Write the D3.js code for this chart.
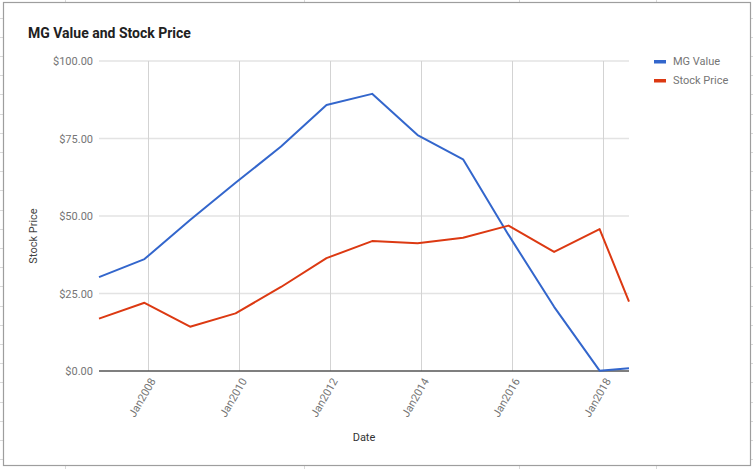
<!DOCTYPE html>
<html>
<head>
<meta charset="utf-8">
<script src="https://cdn.jsdelivr.net/npm/d3@7"></script>
<style>
  html, body { margin: 0; padding: 0; background: #fff; }
  svg { display: block; font-family: Roboto, "Noto Sans", Arial, sans-serif; }
</style>
</head>
<body>
<svg id="chart" width="753" height="469"></svg>
<script>
// ---- data ----
const dates = ["2006-12-01","2007-12-01","2008-12-01","2009-12-01","2010-12-01","2011-12-01",
               "2012-12-01","2013-12-01","2014-12-01","2015-12-01","2016-12-01","2017-12-01","2018-07-25"];
const mgValue    = [30.3, 36.1, 48.7, 60.7, 72.4, 85.8, 89.4, 76.1, 68.3, 43.9, 20.7, 0.1, 0.9];
const stockPrice = [16.9, 22.0, 14.3, 18.6, 27.1, 36.4, 41.9, 41.2, 43.0, 46.9, 38.4, 45.8, 22.4];
const seriesNames = ["MG Value", "Stock Price"];
const seriesColors = ["#3366cc", "#dc3912"];
const yTickValues = [0, 25, 50, 75, 100];
const xTickDates = ["2008-01-01","2010-01-01","2012-01-01","2014-01-01","2016-01-01","2018-01-01"];
const titleText = "MG Value and Stock Price";
const xTitle = "Date";
const yTitle = "Stock Price";

// ---- setup ----
const svg = d3.select("#chart");
const W = 753, H = 469;
const plot = { left: 99, right: 629, top: 61, bottom: 371 };
const parse = d3.timeParse("%Y-%m-%d");
const dateObjs = dates.map(parse);

// spreadsheet background (outside the chart frame)
const bg = svg.append("g").attr("stroke", "#d9d9d9").attr("stroke-width", 1);
[65, 304, 519, 656].forEach(x => {
  bg.append("line").attr("x1", x + 0.5).attr("x2", x + 0.5).attr("y1", 0).attr("y2", 3);
  bg.append("line").attr("x1", x + 0.5).attr("x2", x + 0.5).attr("y1", 466).attr("y2", H);
});
d3.range(17.5, 466, 19.2).forEach(y => {
  bg.append("line").attr("x1", 0).attr("x2", 3).attr("y1", Math.round(y) + 0.5).attr("y2", Math.round(y) + 0.5);
  bg.append("line").attr("x1", 751).attr("x2", W).attr("y1", Math.round(y) + 0.5).attr("y2", Math.round(y) + 0.5);
});

// chart frame
svg.append("rect").attr("x", 3.5).attr("y", 2.5).attr("width", 747).attr("height", 463)
  .attr("fill", "#fff").attr("stroke", "#9e9e9e").attr("stroke-width", 1.2);

const x = d3.scaleTime().domain(d3.extent(dateObjs)).range([plot.left, plot.right]);
const y = d3.scaleLinear().domain([0, 100]).range([plot.bottom, plot.top]);

// horizontal gridlines + y labels
const yAxis = d3.axisLeft(y).tickValues(yTickValues).tickSize(0).tickPadding(6)
  .tickFormat(d => "$" + d3.format(",.2f")(d));
const gy = svg.append("g").attr("transform", `translate(${plot.left},0)`).call(yAxis);
gy.select(".domain").remove();
gy.selectAll("text").attr("fill", "#757575").attr("font-size", 11).attr("font-family", "Roboto, sans-serif");
svg.append("g").selectAll("line").data(yTickValues.filter(d => d > 0)).join("line")
  .attr("x1", plot.left).attr("x2", plot.right)
  .attr("y1", d => y(d)).attr("y2", d => y(d))
  .attr("stroke", "#e3e3e3").attr("stroke-width", 1.6);

// vertical gridlines + x labels
const xTicks = xTickDates.map(parse);
svg.append("g").selectAll("line").data(xTicks).join("line")
  .attr("x1", d => Math.round(x(d)) + 0.5).attr("x2", d => Math.round(x(d)) + 0.5)
  .attr("y1", plot.top).attr("y2", plot.bottom)
  .attr("stroke", "#d3d3d3").attr("stroke-width", 1);

const xAxis = d3.axisBottom(x).tickValues(xTicks).tickSize(0).tickFormat(d3.timeFormat("%b%Y"));
const gx = svg.append("g").attr("transform", `translate(0,${plot.bottom})`).call(xAxis);
gx.select(".domain").remove();
gx.selectAll("text")
  .attr("fill", "#757575").attr("font-size", 11).attr("font-family", "Roboto, sans-serif")
  .attr("text-anchor", "end")
  .attr("transform", "translate(4,8) rotate(-60)")
  .attr("x", 0).attr("y", 0).attr("dy", "0.35em");

// baseline
svg.append("line").attr("x1", plot.left).attr("x2", plot.right)
  .attr("y1", y(0)).attr("y2", y(0)).attr("stroke", "#555").attr("stroke-width", 1.4);

// lines
const series = [mgValue, stockPrice];
const lineGen = d3.line().x((d, i) => x(dateObjs[i])).y(d => y(d));
series.forEach((vals, k) => {
  svg.append("path").datum(vals)
    .attr("d", lineGen)
    .attr("fill", "none")
    .attr("stroke", seriesColors[k])
    .attr("stroke-width", 2)
    .attr("stroke-linejoin", "round");
});

// title
svg.append("text").attr("x", 28).attr("y", 38).text(titleText)
  .attr("font-size", 14).attr("font-weight", "bold").attr("fill", "#212121");

// axis titles
svg.append("text").attr("x", (plot.left + plot.right) / 2).attr("y", 441).text(xTitle)
  .attr("text-anchor", "middle").attr("font-size", 11).attr("fill", "#333");
svg.append("text").attr("transform", "translate(37,236) rotate(-90)").text(yTitle)
  .attr("text-anchor", "middle").attr("font-size", 11).attr("fill", "#444");

// legend
const lg = svg.append("g");
seriesNames.forEach((name, k) => {
  const cy = 61.5 + k * 19;
  lg.append("rect").attr("x", 654).attr("y", cy - 1.5).attr("width", 12).attr("height", 3.5)
    .attr("fill", seriesColors[k]);
  lg.append("text").attr("x", 673).attr("y", cy).attr("dy", "0.35em").text(name)
    .attr("font-size", 11).attr("fill", "#757575");
});
</script>
</body>
</html>
